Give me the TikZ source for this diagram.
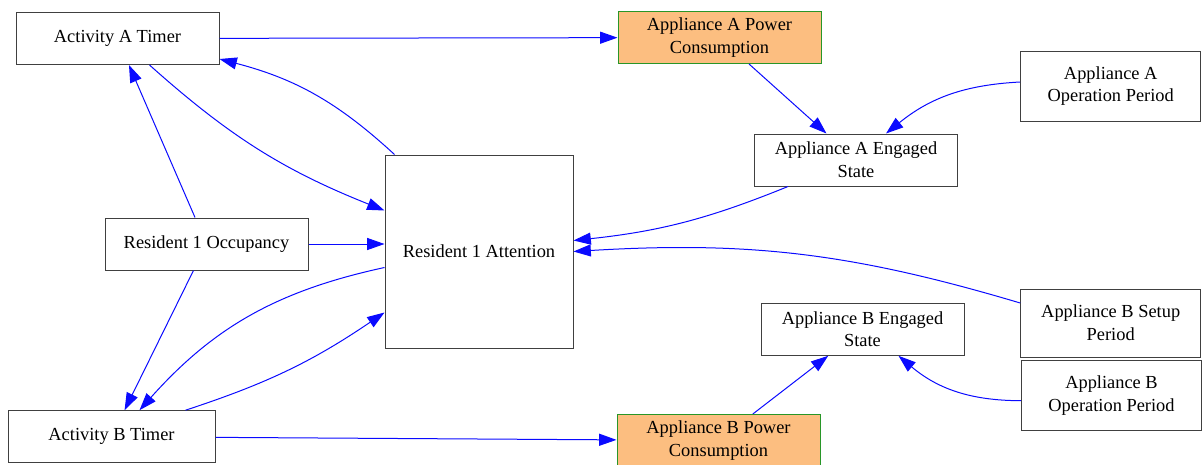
\documentclass[tikz,border=0pt]{standalone}
\usepackage{fontspec}
\setmainfont{Liberation Serif}
\usepackage{xcolor}
\usetikzlibrary{arrows.meta, calc}

\definecolor{linkblue}{RGB}{10,10,255}
\definecolor{powerfill}{RGB}{252,190,128}
\definecolor{powerline}{RGB}{40,150,40}

\begin{document}
\begin{tikzpicture}[
        x=0.75pt, y=-0.75pt,
        every node/.style={font=\fontsize{13.8}{17}\selectfont},
        box/.style={rectangle, draw=black!75, line width=0.75pt, align=center, inner sep=2pt, minimum width=152.25pt, minimum height=39pt},
        power/.style={box, draw=powerline, fill=powerfill},
        arr/.style={-{Triangle[length=13pt, width=9pt]}, draw=linkblue, line width=0.75pt}
    ]
        \useasboundingbox (0,0) rectangle (1202,464);
        % left column
        \node[box] (actA) at (117.5,38.5) {Activity A Timer};
        \node[box] (occ)  at (206.5,244)  {Resident 1 Occupancy};
        \node[box, minimum width=155.25pt] (actB) at (111.5,436.7) {Activity B Timer};
        \node[box, minimum width=141pt, minimum height=144.75pt] (att) at (479,251.5) {Resident 1 Attention};
        % appliances
        \node[power] (appApow) at (719.5,37.5) {Appliance A Power\\Consumption};
        \node[box]   (appAeng) at (856,160)    {Appliance A Engaged\\State};
        \node[box]   (appBeng) at (862.5,329.3) {Appliance B Engaged\\State};
        \node[power] (appBpow) at (718.5,440.5) {Appliance B Power\\Consumption};
        \node[box, minimum width=135pt, minimum height=52.5pt] (appAop)    at (1110.7,86)    {Appliance A\\Operation Period};
        \node[box, minimum width=135pt, minimum height=51pt]   (appBsetup) at (1110.7,323)   {Appliance B Setup\\Period};
        \node[box, minimum width=135pt, minimum height=52.5pt] (appBop)    at (1111.5,395.7) {Appliance B\\Operation Period};
        % links
        \draw[arr] (actA) -- (appApow);
        \draw[arr] (occ) -- (actA);
        \draw[arr] ($(actA.south)+(32,0)$) to[bend right=10] ($(att.west)+(0,-41)$);
        \draw[arr] ($(att.north west)+(10,0)$) to[bend right=14] ($(actA.south east)+(0,-6)$);
        \draw[arr] (occ.east) -- (occ.east -| att.west);
        \draw[arr] (occ) -- (actB);
        \draw[arr] ($(att.west)+(0,16)$) to[bend right=18] ($(actB.north)+(28,0)$);
        \draw[arr] ($(actB.north)+(74,0)$) to[bend right=8] ($(att.west)+(0,61)$);
        \draw[arr] (actB) -- (appBpow);
        \draw[arr] (appApow) -- (appAeng);
        \draw[arr] ($(appAop.west)+(0,-4)$) to[bend right=18] ($(appAeng.north)+(30,0)$);
        \draw[arr] ($(appAeng.south)+(-68,0)$) to[bend left=8] ($(att.east)+(0,-11)$);
        \draw[arr] ($(appBsetup.west)+(0,-20)$) to[bend right=10] (att.east);
        \draw[arr] (appBpow) -- (appBeng);
        \draw[arr] ($(appBop.west)+(0,5)$) to[bend left=20] ($(appBeng.south)+(36,0)$);
\end{tikzpicture}
\end{document}
